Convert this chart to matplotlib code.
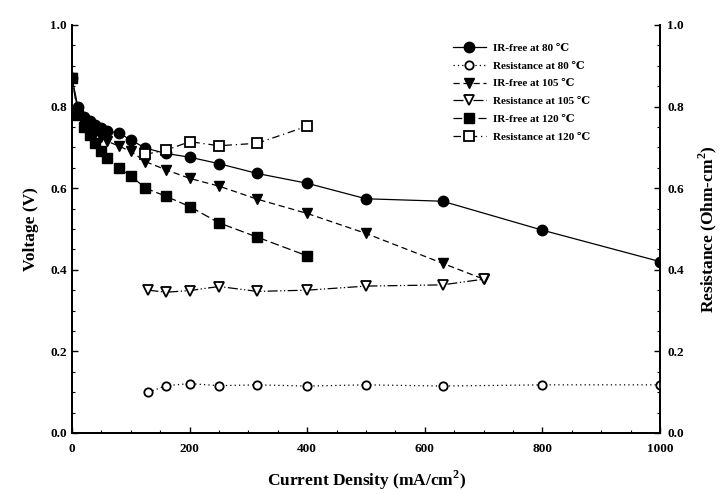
import matplotlib.pyplot as plt
from matplotlib.ticker import MultipleLocator

plt.rcParams['font.family'] = ['Liberation Serif', 'DejaVu Serif']
plt.rcParams['font.weight'] = 'bold'

# IR-free voltage curves
i_80 = [0, 10, 20, 30, 40, 50, 60, 80, 100, 125, 160, 200, 250, 315, 400, 500, 630, 800, 1000]
v_80 = [0.87, 0.80, 0.775, 0.765, 0.755, 0.748, 0.74, 0.735, 0.718, 0.698, 0.685, 0.676,
        0.66, 0.636, 0.612, 0.574, 0.568, 0.497, 0.42]
i_105 = [0, 10, 20, 30, 40, 50, 60, 80, 100, 125, 160, 200, 250, 315, 400, 500, 630, 700]
v_105 = [0.87, 0.79, 0.765, 0.75, 0.735, 0.725, 0.715, 0.703, 0.69, 0.665, 0.645, 0.624,
         0.605, 0.573, 0.538, 0.489, 0.416, 0.377]
i_120 = [0, 10, 20, 30, 40, 50, 60, 80, 100, 125, 160, 200, 250, 315, 400]
v_120 = [0.87, 0.78, 0.75, 0.73, 0.71, 0.69, 0.675, 0.65, 0.63, 0.60, 0.58, 0.555,
         0.515, 0.48, 0.434]

# resistance curves
ir_80 = [130, 160, 200, 250, 315, 400, 500, 630, 800, 1000]
r_80 = [0.100, 0.116, 0.121, 0.116, 0.118, 0.115, 0.118, 0.115, 0.118, 0.118]
ir_105 = [130, 160, 200, 250, 315, 400, 500, 630, 700]
r_105 = [0.350, 0.345, 0.349, 0.359, 0.347, 0.350, 0.360, 0.363, 0.377]
ir_120 = [125, 160, 200, 250, 315, 400]
r_120 = [0.683, 0.693, 0.714, 0.704, 0.710, 0.752]

fig = plt.figure(figsize=(7.27, 4.94), dpi=100)
ax = fig.add_axes([0.099, 0.1235, 0.809, 0.826])
ax2 = ax.twinx()

lw = 0.9
h1, = ax.plot(i_80, v_80, '-', color='black', lw=lw, marker='o', ms=7.5,
              label='IR-free at 80 \u2103')
h3, = ax.plot(i_105, v_105, color='black', lw=lw, ls=(0, (5, 3)), marker='v', ms=7.5,
              label='IR-free at 105 \u2103')
h5, = ax.plot(i_120, v_120, color='black', lw=lw, ls=(0, (7, 3)), marker='s', ms=7,
              label='IR-free at 120 \u2103')
h2, = ax2.plot(ir_80, r_80, color='black', lw=lw, ls=(0, (1, 2.5)), marker='o', ms=6,
               mfc='white', mew=1.3, label='Resistance at 80 \u2103')
h4, = ax2.plot(ir_105, r_105, color='black', lw=lw, ls=(0, (8, 2, 1, 2, 1, 2)), marker='v',
               ms=7, mfc='white', mew=1.3, label='Resistance at 105 \u2103')
h6, = ax2.plot(ir_120, r_120, color='black', lw=lw, ls=(0, (6, 3, 1, 3)), marker='s', ms=7,
               mfc='white', mew=1.3, label='Resistance at 120 \u2103')

ax.set_xlim(0, 1000)
ax.set_ylim(0, 1.0)
ax2.set_ylim(0, 1.0)

ax.xaxis.set_major_locator(MultipleLocator(200))
ax.xaxis.set_minor_locator(MultipleLocator(50))
for a in (ax, ax2):
    a.yaxis.set_major_locator(MultipleLocator(0.2))
    a.yaxis.set_minor_locator(MultipleLocator(0.05))
    a.yaxis.set_major_formatter(plt.FormatStrFormatter('%.1f'))
    a.spines['top'].set_visible(False)
    for s in a.spines.values():
        s.set_linewidth(1.3)

ax.tick_params(axis='both', which='both', direction='in', labelsize=9.5)
ax.tick_params(which='major', length=4, width=1)
ax.tick_params(which='minor', length=2, width=0.8)
ax.tick_params(axis='x', top=False, pad=7)
ax2.tick_params(axis='y', which='both', direction='in', labelsize=9.5)
ax2.tick_params(which='major', length=4, width=1)
ax2.tick_params(which='minor', length=2, width=0.8)
ax2.tick_params(axis='y', pad=5)

ax.set_xlabel('Current Density (mA/cm$^\\mathregular{2}$)', fontsize=12.5, fontweight='bold',
              labelpad=10)
ax.set_ylabel('Voltage (V)', fontsize=12.5, fontweight='bold', labelpad=8)
ax2.set_ylabel('Resistance (Ohm-cm$^\\mathregular{2}$)', fontsize=12.5, fontweight='bold',
               labelpad=9)

leg = ax.legend(handles=[h1, h2, h3, h4, h5, h6], loc='upper left',
                bbox_to_anchor=(0.63, 0.98), frameon=False, fontsize=8,
                handlelength=3.0, labelspacing=0.72, handletextpad=0.6)

fig.savefig('out.png', dpi=100)
